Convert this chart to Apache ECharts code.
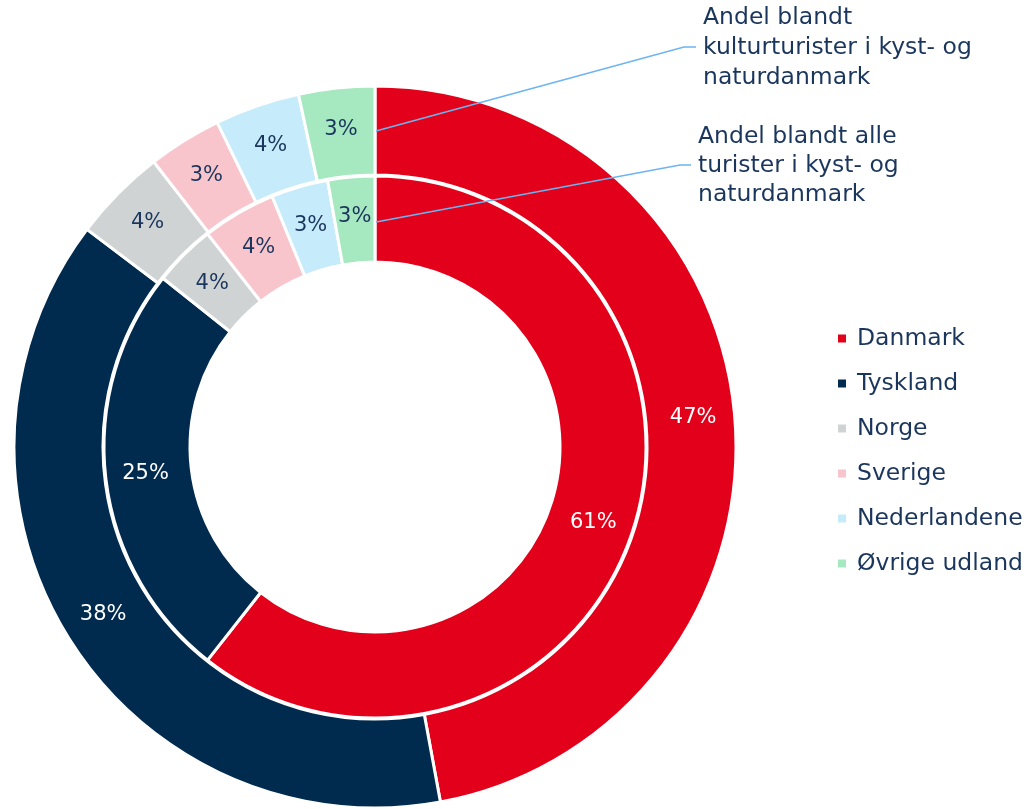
<!DOCTYPE html>
<html>
<head>
<meta charset="utf-8">
<script src="https://cdn.jsdelivr.net/npm/echarts@6/dist/echarts.min.js"></script>
<style>
  html, body { margin: 0; padding: 0; background: #fff; }
  #chart { width: 1033px; height: 809px; }
</style>
</head>
<body>
<div id="chart"></div>
<script>
// Lande (kategorier) og farver
const countries = ['Danmark', 'Tyskland', 'Norge', 'Sverige', 'Nederlandene', 'Øvrige udland'];
const colors = ['#E2001A', '#002A4E', '#D0D3D4', '#F9C5CD', '#C6EBFB', '#A6E8C0'];
// Andel blandt kulturturister (ydre ring) og alle turister (indre ring), i procent
// (aflæst fra vinklerne, labels viser afrundet værdi)
const cultureShare = [47.1, 38.2, 4.2, 3.3, 3.8, 3.4];
const allShare = [60.6, 25.1, 3.7, 4.4, 3.4, 2.8];

const navy = '#1B365D';
const font = '"DejaVu Sans", sans-serif';

const toData = values => values.map((v, i) => ({
  name: countries[i],
  value: v,
  itemStyle: { color: colors[i] },
  label: { color: i < 2 ? '#ffffff' : navy }
}));

const ringBase = {
  type: 'pie',
  center: [375, 447],
  startAngle: 90,
  clockwise: true,
  silent: true,
  itemStyle: { borderColor: '#ffffff', borderWidth: 3 },
  label: {
    show: true,
    position: 'inside',
    formatter: p => Math.round(p.value) + '%',
    fontFamily: font,
    fontSize: 21
  },
  labelLine: { show: false },
  emphasis: { disabled: true }
};

const chart = echarts.init(document.getElementById('chart'));

chart.setOption({
  animation: false,
  legend: {
    orient: 'vertical',
    left: 831,
    top: 321,
    icon: 'rect',
    itemWidth: 10,
    itemHeight: 10,
    itemGap: 20,
    selectedMode: false,
    data: countries,
    textStyle: { color: navy, fontFamily: font, fontSize: 23.5, lineHeight: 25, padding: [0, 0, 0, 5] }
  },
  series: [
    Object.assign({}, ringBase, { name: 'Alle turister', radius: [185, 271], data: toData(allShare) }),
    Object.assign({}, ringBase, { name: 'Kulturturister', radius: [272, 361], data: toData(cultureShare) })
  ],
  graphic: [
    {
      type: 'polyline',
      z: 100,
      shape: { points: [[376, 131], [684, 47], [696, 47]] },
      style: { stroke: '#6CB4F2', lineWidth: 1.6, fill: null }
    },
    {
      type: 'polyline',
      z: 100,
      shape: { points: [[376, 222], [680, 165], [691, 165]] },
      style: { stroke: '#6CB4F2', lineWidth: 1.6, fill: null }
    },
    {
      type: 'text',
      z: 100,
      left: 703,
      top: 3,
      style: {
        text: 'Andel blandt\nkulturturister i kyst- og\nnaturdanmark',
        fill: navy, font: '23.5px "DejaVu Sans", sans-serif', lineHeight: 30
      }
    },
    {
      type: 'text',
      z: 100,
      left: 698,
      top: 122,
      style: {
        text: 'Andel blandt alle\nturister i kyst- og\nnaturdanmark',
        fill: navy, font: '23.5px "DejaVu Sans", sans-serif', lineHeight: 29
      }
    }
  ]
});
</script>
</body>
</html>
